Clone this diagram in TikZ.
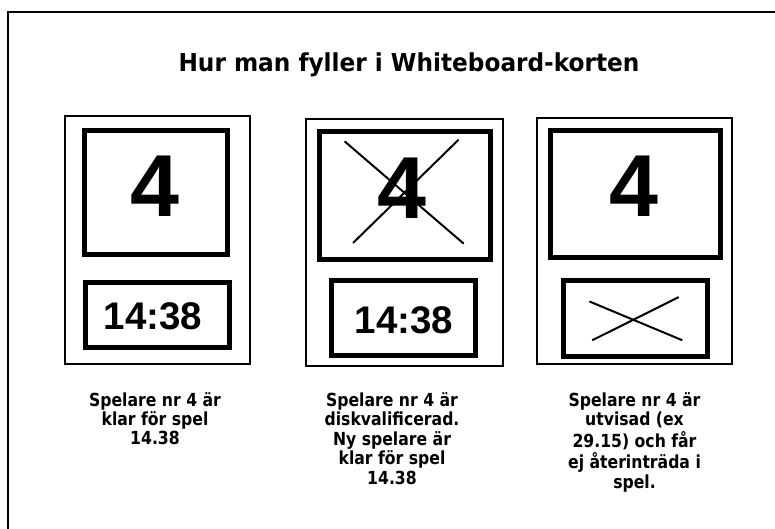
\documentclass[tikz,border=0pt]{standalone}
\usepackage{fontspec}
\setmainfont{DejaVu Sans}
\newfontfamily\arialfont{Liberation Sans}
\begin{document}
\begin{tikzpicture}[x=1pt,y=-1pt,
  card/.style={draw, line width=2pt, inner sep=0pt, outer sep=0pt},
  bigbox/.style={draw, line width=5pt, inner sep=0pt, outer sep=0pt},
  xline/.style={line width=2pt, line cap=round},
  frameline/.style={line width=2pt},
  digit/.style={font=\arialfont\bfseries\fontsize{88}{88}\selectfont, inner sep=0pt},
  clock/.style={font=\arialfont\bfseries\fontsize{38.5}{38.5}\selectfont, inner sep=0pt},
  caption/.style={font=\bfseries\fontsize{18}{19.2}\selectfont, inner sep=0pt, anchor=base},
  titletext/.style={font=\bfseries\fontsize{24.7}{28}\selectfont, inner sep=0pt, anchor=base}]
\useasboundingbox (0,0) rectangle (775,528);
\fill[white] (0,0) rectangle (775,528);
% outer frame (continues past right and bottom edges)
\draw[frameline] (7.5,540) -- (7.5,11.5) -- (790,11.5);

\node[titletext] (title) at (409,71) {\scalebox{0.94}[1]{Hur man fyller i Whiteboard-korten}};

% card 1
\node[card, minimum width=185, minimum height=248] (c1) at (157,240) {};
\node[bigbox, minimum width=143, minimum height=124] (n1) at (156,192.5) {};
\node[bigbox, minimum width=144, minimum height=64.5] (t1) at (157.5,314.75) {};
\node[digit] (d1) at (155,186.5) {4};
\node[clock] (k1) at (153,316.5) {14:38};

% card 2
\node[card, minimum width=197, minimum height=247] (c2) at (404,242) {};
\node[bigbox, minimum width=171, minimum height=128] (n2) at (405,195.5) {};
\node[bigbox, minimum width=144, minimum height=75] (t2) at (403.5,318) {};
\node[digit] (d2) at (402,188) {4};
\node[clock] (k2) at (404,320) {14:38};
\coordinate (x2a) at (345,141.7);
\coordinate (x2b) at (463.3,243.3);
\coordinate (x2c) at (458.3,140);
\coordinate (x2d) at (353.3,242.7);
\draw[xline] (x2a) -- (x2b);
\draw[xline] (x2c) -- (x2d);

% card 3
\node[card, minimum width=195.5, minimum height=246.5] (c3) at (634.25,240.75) {};
\node[bigbox, minimum width=170, minimum height=127] (n3) at (635.5,194) {};
\node[bigbox, minimum width=144, minimum height=76] (t3) at (635.5,318.5) {};
\node[digit] (d3) at (634,186.5) {4};
\coordinate (x3a) at (590,301.7);
\coordinate (x3b) at (681.7,340);
\coordinate (x3c) at (678.3,297.3);
\coordinate (x3d) at (592.7,340);
\draw[xline] (x3a) -- (x3b);
\draw[xline] (x3c) -- (x3d);

% captions
\node[caption] (cap1) at (155,406) {\scalebox{0.87}[1]{\begin{tabular}[t]{@{}c@{}}Spelare nr 4 är\\klar för spel\\14.38\end{tabular}}};
\node[caption] (cap2) at (392,406) {\scalebox{0.87}[1]{\begin{tabular}[t]{@{}c@{}}Spelare nr 4 är\\diskvalificerad.\\Ny spelare är\\klar för spel\\14.38\end{tabular}}};
\node[caption] (cap3) at (634.5,406) {\scalebox{0.87}[1]{\begin{tabular}[t]{@{}c@{}}Spelare nr 4 är\\utvisad (ex\\29.15) och får\\ej återinträda i\\spel.\end{tabular}}};
\end{tikzpicture}
\end{document}
